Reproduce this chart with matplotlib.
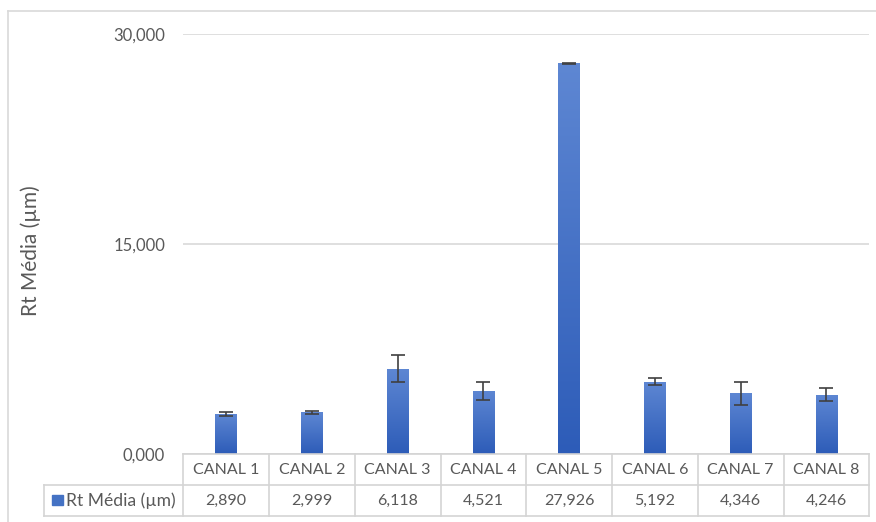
import numpy as np
import matplotlib
matplotlib.use("Agg")
import matplotlib.pyplot as plt
from matplotlib.colors import LinearSegmentedColormap
from matplotlib.lines import Line2D
from matplotlib.patches import Rectangle

categories = ["CANAL 1", "CANAL 2", "CANAL 3", "CANAL 4",
              "CANAL 5", "CANAL 6", "CANAL 7", "CANAL 8"]
rt_media = [2.890, 2.999, 6.118, 4.521, 27.926, 5.192, 4.346, 4.246]
rt_err = [0.15, 0.12, 0.98, 0.64, 0.05, 0.25, 0.80, 0.46]
series_name = "Rt Média (µm)"
y_ticks = [0, 15, 30]

W, H = 876, 522
FONT = ["Lato", "DejaVu Sans"]
TXT = "#595959"
GRID = "#D9D9D9"


def fmt(v):
    return f"{v:,.3f}".replace(",", "X").replace(".", ",").replace("X", ".")


fig = plt.figure(figsize=(W / 100, H / 100), dpi=100)
fig.patch.set_facecolor("white")

# plot area (pixel geometry of the chart)
x0, x1 = 183.3, 869.3
y_zero, y_top = 454.3, 34.3
ax = fig.add_axes([x0 / W, 1 - y_zero / H, (x1 - x0) / W, (y_zero - y_top) / H])
ax.set_xlim(-0.5, len(categories) - 0.5)
ax.set_ylim(0, 30)
for s in ax.spines.values():
    s.set_visible(False)
ax.set_xticks([])
ax.set_yticks(y_ticks)
ax.set_yticklabels([fmt(v) for v in y_ticks])
ax.tick_params(axis="y", length=0, pad=13, labelsize=12, labelcolor=TXT)
for lab in ax.get_yticklabels():
    lab.set_family(FONT)
ax.yaxis.grid(True, color=GRID, linewidth=1.2)
ax.set_axisbelow(True)

x = np.arange(len(categories))
cmap = LinearSegmentedColormap.from_list("bar", ["#2D5CB8", "#5E87D3"])
grad = np.linspace(0, 1, 256).reshape(-1, 1)
bars = ax.bar(x, rt_media, width=0.253, color="none", edgecolor="none", zorder=2)
for b in bars:
    bx, by = b.get_x(), b.get_y()
    bw, bh = b.get_width(), b.get_height()
    im = ax.imshow(grad, cmap=cmap, origin="lower", aspect="auto",
                   extent=[bx, bx + bw, by, by + bh], zorder=2,
                   interpolation="bilinear")
    im.set_clip_path(b)
ax.set_xlim(-0.5, len(categories) - 0.5)
ax.set_ylim(0, 30)
ax.errorbar(x, rt_media, yerr=rt_err, fmt="none", ecolor="#404040",
            elinewidth=1.2, capsize=5, capthick=1.2, zorder=3)

ax.set_ylabel(series_name, fontsize=15, color=TXT, family=FONT, labelpad=0)
ax.yaxis.set_label_coords((41 - x0) / (x1 - x0), (y_zero - 251) / (y_zero - y_top))

# overlay in pixel coordinates for the chart frame and data table
ov = fig.add_axes([0, 0, 1, 1], zorder=5)
ov.set_xlim(0, W)
ov.set_ylim(H, 0)
ov.axis("off")
ov.patch.set_alpha(0)

# chart frame
ov.add_line(Line2D([7.5, 7.5], [10.5, H + 5], color=GRID, lw=1.2))
ov.add_line(Line2D([7.5, W + 5], [10.5, 10.5], color=GRID, lw=1.2))

# data table
row1_top, row_mid, row2_bot = y_zero, 485.0, 515.7
legend_left = 44.3
col_w = (x1 - x0) / len(categories)
tcol = "#D4D4D4"
ov.add_line(Line2D([x0, x1], [row1_top, row1_top], color=tcol, lw=1.2))
ov.add_line(Line2D([legend_left, x1], [row_mid, row_mid], color=tcol, lw=1.2))
ov.add_line(Line2D([legend_left, x1], [row2_bot, row2_bot], color=tcol, lw=1.2))
ov.add_line(Line2D([legend_left, legend_left], [row_mid, row2_bot], color=tcol, lw=1.2))
for i in range(len(categories) + 1):
    cx = x0 + i * col_w
    ov.add_line(Line2D([cx, cx], [row1_top, row2_bot], color=tcol, lw=1.2))

for i, (cat, v) in enumerate(zip(categories, rt_media)):
    cx = x0 + (i + 0.5) * col_w
    ov.text(cx, (row1_top + row_mid) / 2 + 0.5, cat, ha="center", va="center",
            fontsize=11.5, color=TXT, family=FONT)
    ov.text(cx, (row_mid + row2_bot) / 2 + 0.5, fmt(v), ha="center", va="center",
            fontsize=11.5, color=TXT, family=FONT)

ov.add_patch(Rectangle((52, 494.5), 10.5, 10.5, color="#4472C4"))
ov.text(66, (row_mid + row2_bot) / 2 + 0.5, series_name, ha="left", va="center",
        fontsize=12.6, color=TXT, family=FONT)

fig.savefig("out.png", dpi=100, facecolor="white")
